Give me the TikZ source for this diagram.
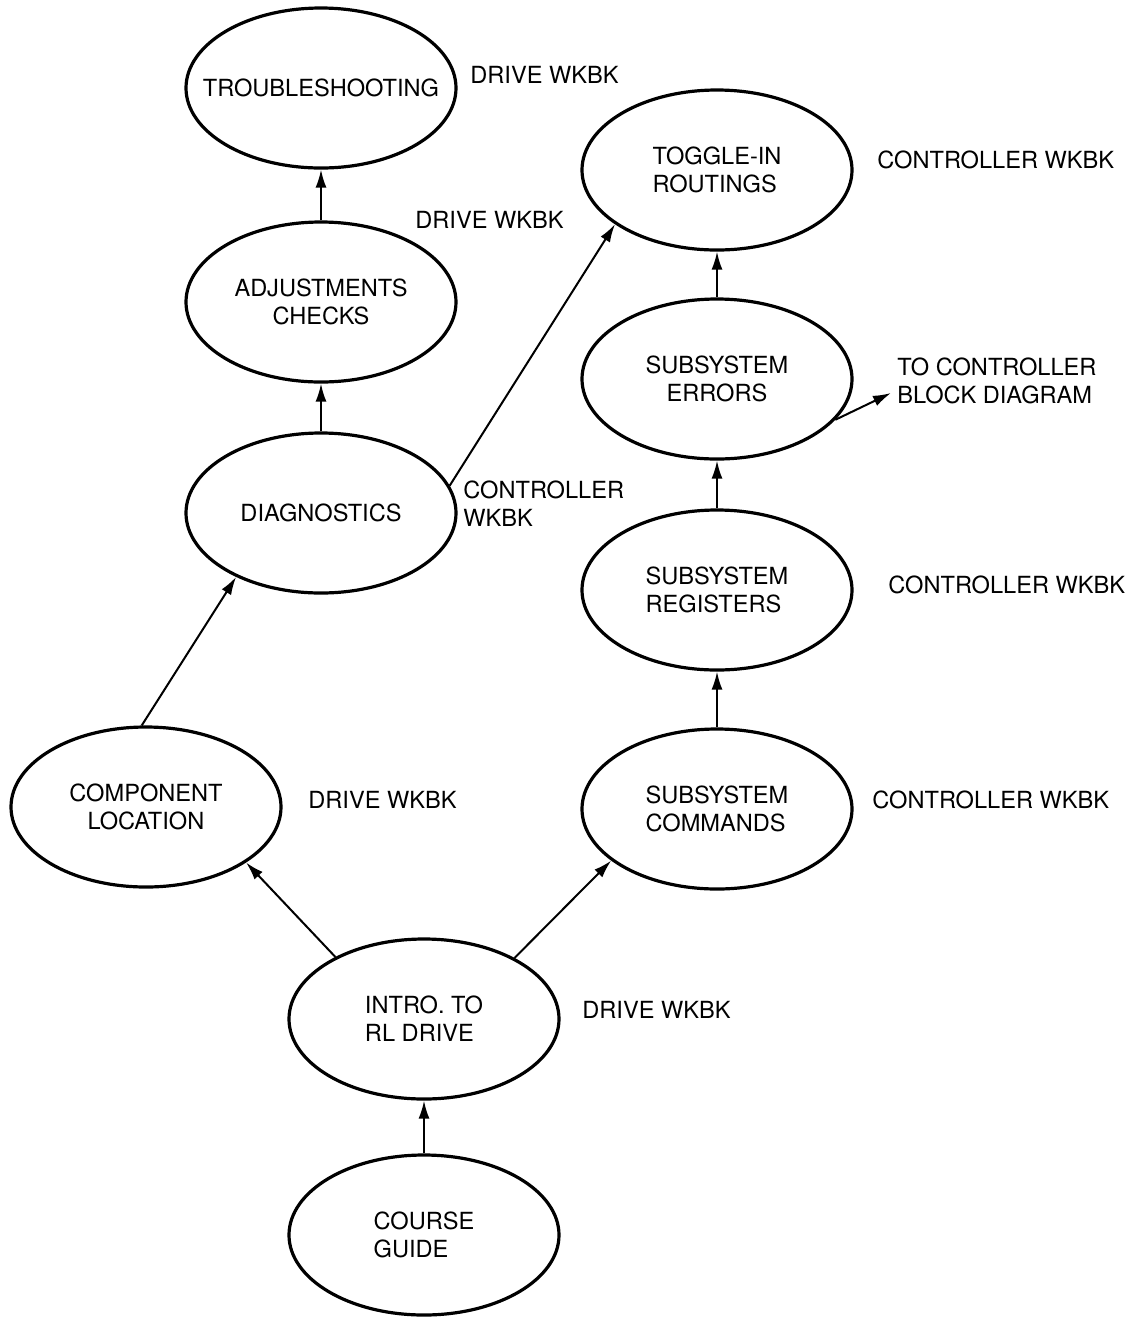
\documentclass[tikz,border=0pt]{standalone}
\usepackage{fontspec}
\setmainfont{TeX Gyre Heros}
\usetikzlibrary{shapes.geometric,arrows.meta}

\begin{document}
\begin{tikzpicture}[x=0.5pt,y=-0.5pt,
  topic/.style={draw,line width=1.6pt,ellipse,minimum width=135pt,minimum height=80pt,
    inner sep=0pt,font=\fontsize{11.8}{14}\selectfont},
  wkbk/.style={anchor=west,inner sep=0pt,align=left,font=\fontsize{11.8}{14}\selectfont},
  link/.style={line width=1pt,-{Latex[length=9pt,width=5.5pt]}}]

  \useasboundingbox (0,0) rectangle (1135,1319);

  % drive side
  \node[topic,align=center] (trouble) at (321,88) {\makebox[0pt]{TROUBLESHOOTING}};
  \node[wkbk] at (470,75) {DRIVE WKBK};

  \node[topic,align=center] (adjust) at (321,302) {ADJUSTMENTS\\CHECKS};
  \node[wkbk] at (415,220) {DRIVE WKBK};

  \node[topic,align=center] (diag) at (321,513) {DIAGNOSTICS};
  \node[wkbk] at (463,504) {CONTROLLER\\WKBK};

  \node[topic,align=center] (comp) at (146,807) {COMPONENT\\LOCATION};
  \node[wkbk] at (308,800) {DRIVE WKBK};

  \node[topic,align=left] (intro) at (424,1019) {INTRO. TO\\RL DRIVE};
  \node[wkbk] at (582,1010) {DRIVE WKBK};

  \node[topic,align=left] (course) at (424,1235) {COURSE\\GUIDE};

  % controller side
  \node[topic,align=left] (toggle) at (717,170) {TOGGLE-IN\\ROUTINGS};
  \node[wkbk] at (877,160) {CONTROLLER WKBK};

  \node[topic,align=center] (errors) at (717,379) {SUBSYSTEM\\ERRORS};
  \node[wkbk] (block) at (897,381) {TO CONTROLLER\\BLOCK DIAGRAM};

  \node[topic,align=left] (regs) at (717,590) {SUBSYSTEM\\REGISTERS};
  \node[wkbk] at (888,585) {CONTROLLER WKBK};

  \node[topic,align=left] (cmds) at (717,809) {SUBSYSTEM\\COMMANDS};
  \node[wkbk] at (872,800) {CONTROLLER WKBK};

  \coordinate (out) at (891,393);

  \draw[link] (course) -- (intro);
  \draw[link] (intro.145) -- (comp.-29);
  \draw[link] (intro.34) -- (cmds.206);
  \draw[link] (comp.93) -- (diag.217);
  \draw[link] (diag) -- (adjust);
  \draw[link] (adjust) -- (trouble);
  \draw[link] (diag.12) -- (toggle.208);
  \draw[link] (cmds) -- (regs);
  \draw[link] (regs) -- (errors);
  \draw[link] (errors) -- (toggle);
  \draw[link] (errors.-19) -- (out);

\end{tikzpicture}
\end{document}
